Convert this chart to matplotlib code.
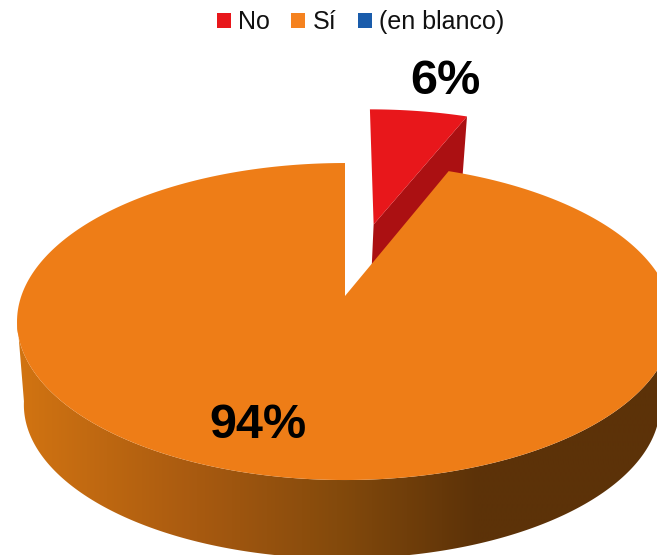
import numpy as np
import matplotlib
matplotlib.use("Agg")
import matplotlib.pyplot as plt
from matplotlib.patches import Polygon, Patch
from matplotlib.colors import LinearSegmentedColormap

# --- data ---
categories = ["No", "Sí", "(en blanco)"]
shares = [6, 94, 0]
labels = ["6%", "94%"]

# --- style ---
plt.rcParams["font.family"] = ["Liberation Sans", "DejaVu Sans"]
RED, RED_DARK = "#E8171B", "#AB1012"
ORANGE, ORANGE_LEG, BLUE = "#EE7D17", "#F5821F", "#1A5CAB"

W, H = 657, 555
fig = plt.figure(figsize=(W / 100, H / 100), dpi=100)
ax = fig.add_axes([0, 0, 1, 1])
ax.set_xlim(0, W)
ax.set_ylim(H, 0)
ax.axis("off")

# Perspective of the pie disc on the canvas
CX, CY = 345.0, 296.0
A, B, P = 154.4, 323.7, 0.161
BASE_SCALE, BASE_DROP, BASE_SHIFT = 0.97, 84.0, -3.0


def project(u, v, base=False):
    w = 1 + P * v
    s, d, sx = (BASE_SCALE, BASE_DROP, BASE_SHIFT) if base else (1.0, 0.0, 0.0)
    return np.column_stack([CX + sx + s * B * u / w, CY + d - s * A * v / w])


def arc(t0, t1, explode=0.0, mid=0.0, base=False, n=300):
    t = np.radians(np.linspace(t0, t1, n))
    eu, ev = explode * np.sin(np.radians(mid)), explode * np.cos(np.radians(mid))
    return project(np.sin(t) + eu, np.cos(t) + ev, base)


def apex(explode=0.0, mid=0.0, base=False):
    eu, ev = explode * np.sin(np.radians(mid)), explode * np.cos(np.radians(mid))
    return project(np.array([eu]), np.array([ev]), base)


total = sum(shares)
red_span = 360.0 * shares[0] / total
orange_span = 360.0 * shares[1] / total
EXPLODE = 0.51
red_mid = red_span / 2

# red slice, thrown out of the pie: side wall, then top
top_arc = arc(0, red_span, EXPLODE, red_mid)
base_arc = arc(0, red_span, EXPLODE, red_mid, base=True)
red_top = np.vstack([apex(EXPLODE, red_mid), top_arc])
red_base = np.vstack([apex(EXPLODE, red_mid, True), base_arc])
wall_pts = np.vstack([red_top[[0, -1]], red_base[[-1, 0]]])
ax.add_patch(Polygon(wall_pts, closed=True, fc=RED_DARK, ec="none", zorder=1))
ax.add_patch(Polygon(red_top, closed=True, fc=RED, ec="none", zorder=2))

# orange slice: shaded outer wall
front_top = arc(98, 262)
front_base = arc(98, 262, base=True)
wall = np.vstack([front_top, front_base[::-1]])
wall_patch = Polygon(wall, closed=True, fc="none", ec="none", zorder=3)
ax.add_patch(wall_patch)
cmap = LinearSegmentedColormap.from_list(
    "wall",
    [(0.0, "#D27412"), (0.28, "#A85A10"), (0.5, "#844A0C"), (0.72, "#5C3208"), (1.0, "#5C3208")],
)
im = ax.imshow(
    np.linspace(0, 1, 512)[None, :],
    extent=(17, 657, H, 0),
    cmap=cmap,
    aspect="auto",
    zorder=3,
)
im.set_clip_path(wall_patch)
ax.set_xlim(0, W)
ax.set_ylim(H, 0)

# orange slice: top face (runs from 12 o'clock anticlockwise)
orange_top = np.vstack([apex(), arc(360, 360 - orange_span)])
ax.add_patch(Polygon(orange_top, closed=True, fc=ORANGE, ec="none", zorder=4))

# percentage labels
ax.text(445, 82, labels[0], fontsize=35, fontweight="bold", color="black",
        ha="center", va="center", zorder=5)
ax.text(258, 426, labels[1], fontsize=35, fontweight="bold", color="black",
        ha="center", va="center", zorder=5)

# legend
handles = [Patch(fc=c, ec="none") for c in (RED, ORANGE_LEG, BLUE)]
ax.legend(
    handles, categories, ncols=3, loc="center", bbox_to_anchor=(360.5 / W, 1 - 22 / H),
    frameon=False, fontsize=18, handlelength=0.56, handleheight=0.56,
    handletextpad=0.3, columnspacing=0.85, borderpad=0, labelcolor="#111111",
)

fig.savefig("out.png", dpi=100)
